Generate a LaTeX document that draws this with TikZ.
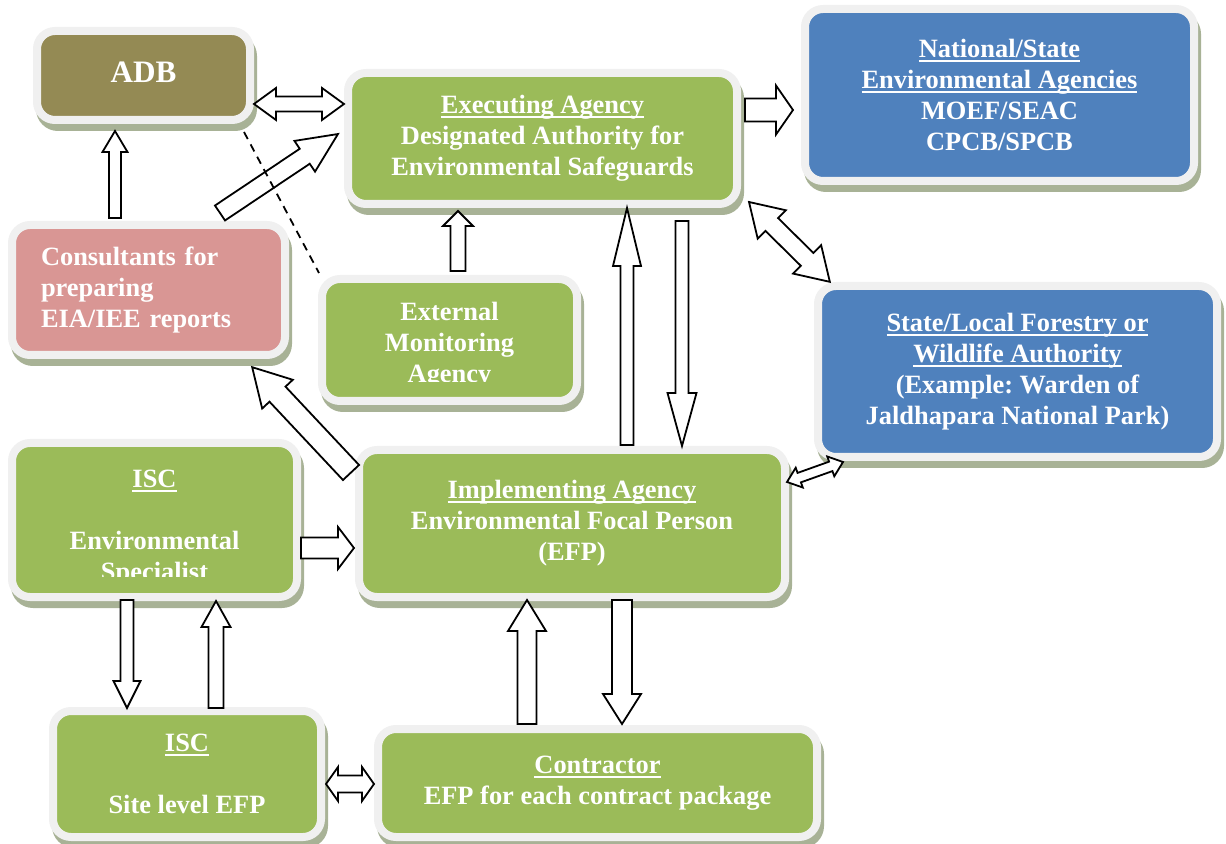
\documentclass[tikz,border=0pt]{standalone}
\usepackage{fontspec}
\setmainfont{Liberation Serif}
\usetikzlibrary{calc,shadows}
\frenchspacing

\definecolor{adbc}{HTML}{948A54}
\definecolor{greenc}{HTML}{9BBB59}
\definecolor{bluec}{HTML}{4F81BD}
\definecolor{pinkc}{HTML}{D99694}
\definecolor{rimc}{HTML}{F0F0F0}
\definecolor{shadowc}{HTML}{A8B296}

% heavier underline for the box titles
\newcommand\ulbox[1]{\setbox0\hbox{#1}\rlap{\rule[-2.2pt]{\wd0}{0.9pt}}\box0}

\tikzset{
  boxtext/.style={text=white, align=center, font=\bfseries\fontsize{13.2}{15.5}\selectfont},
  box/.style={boxtext, rectangle, rounded corners=9pt, draw=rimc, line width=4pt,
    drop shadow={shadow xshift=1.5pt, shadow yshift=-3.5pt, fill=shadowc,
      draw=shadowc, line width=4pt, opacity=1}},
  blockline/.style={draw=black, fill=white, line width=0.9pt, line join=miter},
  dashline/.style={draw=black, line width=0.9pt, dash pattern=on 4pt off 3pt}
}

% block arrows: tail, tip, shaft width, head width, head length (px)
\newcommand\blockarrow[5]{%
  \path let \p1=(#1), \p2=(#2) in \pgfextra{%
    \pgfmathparse{atan2(\y2-\y1,\x2-\x1)}\xdef\arrang{\pgfmathresult}%
    \pgfmathparse{veclen(\x2-\x1,\y2-\y1)}\xdef\arrlen{\pgfmathresult}};
  \begin{scope}[shift={(#1)}, rotate=\arrang, x=1pt, y=1pt]
    \draw[blockline] (0,#3/4) -- ({\arrlen-#5/2},#3/4) -- ({\arrlen-#5/2},#4/4)
      -- (\arrlen,0) -- ({\arrlen-#5/2},-#4/4) -- ({\arrlen-#5/2},-#3/4)
      -- (0,-#3/4) -- cycle;
  \end{scope}}
\newcommand\dblockarrow[5]{%
  \path let \p1=(#1), \p2=(#2) in \pgfextra{%
    \pgfmathparse{atan2(\y2-\y1,\x2-\x1)}\xdef\arrang{\pgfmathresult}%
    \pgfmathparse{veclen(\x2-\x1,\y2-\y1)}\xdef\arrlen{\pgfmathresult}};
  \begin{scope}[shift={(#1)}, rotate=\arrang, x=1pt, y=1pt]
    \draw[blockline] (#5/2,#3/4) -- ({\arrlen-#5/2},#3/4) -- ({\arrlen-#5/2},#4/4)
      -- (\arrlen,0) -- ({\arrlen-#5/2},-#4/4) -- ({\arrlen-#5/2},-#3/4)
      -- (#5/2,-#3/4) -- (#5/2,-#4/4) -- (0,0) -- (#5/2,#4/4) -- cycle;
  \end{scope}}

\begin{document}
\begin{tikzpicture}[x=0.5pt, y=-0.5pt]
  \useasboundingbox (0,0) rectangle (1226,844);

  % boxes
  \node[box, fill=adbc, minimum width=106.5pt, minimum height=44.5pt,
    font=\bfseries\fontsize{15.6}{18}\selectfont] (adb) at (143.5,75.5) {\raisebox{3.5pt}{ADB}};
  \node[box, fill=greenc, minimum width=194.5pt, minimum height=65.5pt] (exec) at (542.5,138.5)
    {\ulbox{Executing Agency}\\Designated Authority for\\Environmental Safeguards};
  \node[box, fill=bluec, minimum width=194.5pt, minimum height=86pt] (natl) at (999.5,95)
    {\ulbox{National/State}\\\ulbox{Environmental Agencies}\\MOEF/SEAC\\CPCB/SPCB};
  \node[box, fill=pinkc, minimum height=65pt, inner xsep=14.5pt, text width=107.5pt,
    align=left] (cons) at (148.5,290) {Consultants for\\preparing\\EIA/IEE reports};
  \node[box, fill=greenc, minimum width=127.5pt, minimum height=61pt] (ext) at (449.5,340) {};
  \node[box, fill=bluec, minimum width=199.5pt, minimum height=85.5pt] (stat) at (1017.5,371.5)
    {\ulbox{State/Local Forestry or}\\\ulbox{Wildlife Authority}\\(Example: Warden of\\Jaldhapara National Park)};
  \node[box, fill=greenc, minimum width=142.5pt, minimum height=77pt] (iscE) at (154.5,520) {};
  \node[box, fill=greenc, minimum width=213pt, minimum height=73.5pt] (impl) at (572,523.5)
    {\ulbox{Implementing Agency}\\Environmental Focal Person\\(EFP)};
  \node[box, fill=greenc, minimum width=134pt, minimum height=63pt] (iscS) at (187,774)
    {\ulbox{ISC}\\[15.5pt]Site level EFP};
  \node[box, fill=greenc, minimum width=219.5pt, minimum height=54pt] (cont) at (597.5,783)
    {\ulbox{Contractor}\\EFP for each contract package};

  % texts cut off at the bottom
  \begin{scope}
    \clip (ext.north west) rectangle ($(ext.south east)+(0,-23)$);
    \node[boxtext] (exttxt) at (449.5,345.5) {External\\Monitoring\\Agency};
  \end{scope}
  \begin{scope}
    \clip (iscE.north west) rectangle ($(iscE.south east)+(0,-25)$);
    \node[boxtext] (iscEtxt) at (154.5,528) {\ulbox{ISC}\\[15.5pt]Environmental\\Specialist};
  \end{scope}

  % connectors
  \dblockarrow{$(adb.east)+(0,28.5)$}{$(exec.west)+(0,-34.5)$}{15}{32}{22}
  \blockarrow{$(cons.north)+(71.5,-8)$}{$(exec.west)+(-6,-4.5)$}{18}{37}{40}
  \blockarrow{$(cons.north)+(-33.5,-3)$}{$(adb.south)+(-28.5,7)$}{12}{25}{21}
  \draw[dashline] ($(adb.south east)+(-10,8)$) -- ($(ext.north west)+(1,-2)$);
  \blockarrow{$(ext.north)+(8.5,-4)$}{$(exec.south)+(-84.5,3)$}{15}{30}{15}
  \blockarrow{$(exec.east)+(4,-28.5)$}{$(natl.west)+(-8,15)$}{23}{49}{17}
  \dblockarrow{$(exec.south east)+(8,-6)$}{$(stat.north west)+(16,0)$}{18}{40}{32}
  \blockarrow{$(impl.north)+(55,-1)$}{$(exec.south)+(84.5,0)$}{13}{28}{58}
  \blockarrow{$(exec.south)+(139.5,13)$}{$(impl.north)+(110,0)$}{13}{29}{53}
  \blockarrow{$(impl.north west)+(-4,26.5)$}{$(cons.south east)+(-37,8)$}{22}{42}{37}
  \dblockarrow{$(impl.east)+(-2,-41.5)$}{$(stat.south west)+(29,1)$}{10}{21}{13}
  \blockarrow{$(iscE.east)+(0,28)$}{$(impl.west)+(-1,24.5)$}{21}{42}{16}
  \blockarrow{$(iscE.south)+(-27.5,-1)$}{$(iscS.north)+(-60,1)$}{13}{27}{27}
  \blockarrow{$(iscS.north)+(29,1)$}{$(iscE.south)+(61.5,0)$}{15}{29}{26}
  \dblockarrow{$(iscS.east)+(1,10)$}{$(cont.west)+(0,1)$}{17}{34}{12}
  \blockarrow{$(cont.north)+(-70.5,-1)$}{$(impl.south)+(-45,-1)$}{19}{38}{31}
  \blockarrow{$(impl.south)+(50,-1)$}{$(cont.north)+(24.5,-1)$}{20}{38}{30}
\end{tikzpicture}
\end{document}
